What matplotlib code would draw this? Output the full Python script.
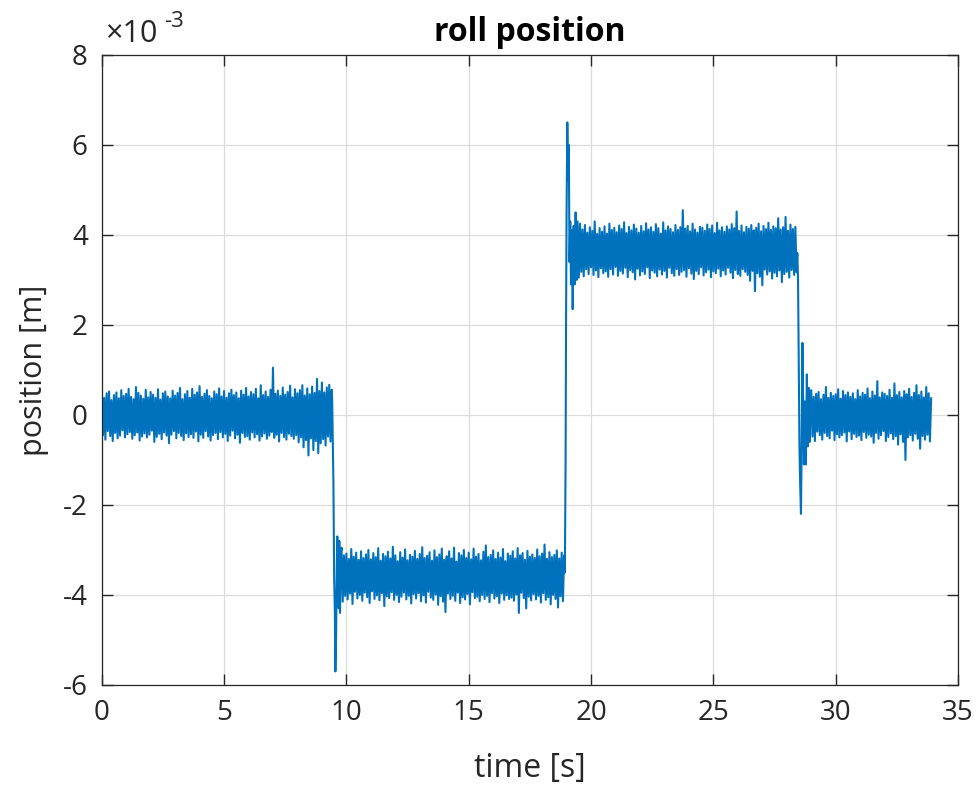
import numpy as np
import matplotlib
matplotlib.use("Agg")
import matplotlib.pyplot as plt
from matplotlib.ticker import FuncFormatter

plt.rcParams['font.family'] = ['Open Sans', 'DejaVu Sans']
plt.rcParams['axes.unicode_minus'] = False

dt = 0.05  # sample spacing of the steady parts [s]

# steady part 1: 0.00 .. 9.40 s, position in mm
seg1_start = 0.0
seg1 = [0.62, -0.45, 0.38, -0.55, 0.48, -0.36, 0.52, -0.47, 0.33, -0.58, 0.44, -0.40, 0.50, -0.52, 0.37, -0.46, 0.55, -0.34, 0.42, -0.50,
        0.47, -0.43, 0.58, -0.38, 0.40, -0.53, 0.35, -0.45, 0.62, -0.39, 0.49, -0.57, 0.43, -0.48, 0.36, -0.41, 0.56, -0.50, 0.39, -0.44,
        0.51, -0.35, 0.45, -0.60, 0.38, -0.49, 0.57, -0.42, 0.34, -0.54, 0.48, -0.39, 0.52, -0.46, 0.41, -0.63, 0.37, -0.44, 0.54, -0.36,
        0.43, -0.52, 0.49, -0.40, 0.60, -0.47, 0.35, -0.56, 0.46, -0.41, 0.53, -0.49, 0.38, -0.43, 0.58, -0.51, 0.45, -0.37, 0.50, -0.59,
        0.64, -0.44, 0.40, -0.51, 0.47, -0.36, 0.55, -0.48, 0.42, -0.57, 0.37, -0.45, 0.52, -0.40, 0.46, -0.54, 0.59, -0.38, 0.41, -0.50,
        0.53, -0.42, 0.38, -0.58, 0.48, -0.46, 0.56, -0.35, 0.44, -0.52, 0.50, -0.44, 0.37, -0.62, 0.54, -0.40, 0.45, -0.49, 0.60, -0.47,
        0.41, -0.55, 0.51, -0.39, 0.46, -0.50, 0.58, -0.43, 0.37, -0.57, 0.66, -0.48, 0.44, -0.41, 0.52, -0.53, 0.40, -0.46, 0.56, -0.38,
        1.05, -0.51, 0.47, -0.44, 0.54, -0.59, 0.42, -0.40, 0.61, -0.49, 0.45, -0.55, 0.51, -0.42, 0.65, -0.47, 0.39, -0.53, 0.57, -0.45,
        0.48, -0.61, 0.55, -0.50, 0.66, -0.72, 0.43, -0.56, 0.59, -0.90, 0.46, -0.52, 0.63, -0.78, 0.49, -0.58, 0.80, -0.85, 0.53, -0.63,
        0.72, -0.54, 0.50, -0.68, 0.61, -0.48, 0.67, -0.59, 0.56]

# step down
tr1_t = [9.42, 9.44, 9.47, 9.50, 9.53, 9.55, 9.58, 9.61, 9.63, 9.66, 9.69, 9.71, 9.74, 9.77]
tr1_y = [0.3, -0.4, -1.5, -3.6, -4.4, -5.7, -4.9, -3.3, -2.7, -3.9, -4.3, -2.8, -4.4, -3.1]

# steady part 2: 9.80 .. 18.90 s
seg2_start = 9.80
seg2 = [-2.95, -4.15, -3.12, -4.02, -3.08, -4.10, -3.20, -3.97, -2.98, -4.20, -3.15, -3.93, -3.06, -4.08, -3.22, -4.00, -3.03, -4.13, -3.18, -3.95,
        -3.10, -4.05, -3.00, -4.18, -3.21, -3.92, -3.07, -4.09, -3.16, -4.01, -2.96, -4.12, -3.24, -3.96, -3.09, -4.25, -3.14, -4.03, -3.04, -4.07,
        -3.19, -3.94, -2.93, -4.11, -3.12, -4.00, -3.25, -4.16, -3.05, -4.04, -3.17, -3.95, -2.99, -4.10, -3.23, -4.02, -3.11, -4.19, -3.15, -3.98,
        -3.02, -4.08, -3.20, -3.96, -3.09, -4.14, -2.94, -4.01, -3.18, -4.17, -3.13, -3.93, -3.05, -4.06, -3.24, -4.11, -3.01, -3.99, -3.16, -4.22,
        -3.10, -4.03, -2.97, -4.15, -3.22, -4.38, -3.14, -3.97, -3.03, -4.09, -3.19, -4.02, -2.95, -4.13, -3.26, -3.95, -3.07, -4.18, -3.12, -4.05,
        -3.00, -4.10, -3.18, -3.98, -3.06, -4.21, -3.21, -3.94, -2.97, -4.07, -3.15, -4.04, -3.09, -4.14, -3.23, -4.00, -3.04, -4.09, -2.90, -4.02,
        -3.16, -4.16, -3.11, -3.96, -3.01, -4.08, -3.20, -4.03, -3.06, -4.18, -3.17, -3.97, -2.98, -4.11, -3.25, -4.01, -3.08, -4.09, -3.13, -4.06,
        -3.03, -4.13, -3.19, -3.99, -2.96, -4.40, -3.12, -3.95, -3.07, -4.07, -3.22, -4.30, -3.02, -4.04, -3.15, -4.12, -3.10, -3.98, -3.18, -4.10,
        -2.99, -4.02, -3.14, -4.17, -3.08, -3.96, -2.88, -4.11, -3.20, -4.05, -3.05, -4.21, -3.16, -4.00, -3.11, -4.09, -3.01, -4.28, -3.19, -4.03,
        -3.06, -4.14, -3.12]

# step up with overshoot
tr2_t = [18.93, 18.96, 18.98, 19.00, 19.03, 19.06, 19.09, 19.12, 19.15, 19.18, 19.22, 19.25, 19.29, 19.33, 19.37, 19.41, 19.45]
tr2_y = [-3.5, -1.0, 2.3, 4.5, 6.5, 5.2, 6.0, 3.4, 4.3, 2.9, 4.1, 2.35, 4.2, 2.9, 4.5, 3.0, 4.3]

# steady part 3: 19.50 .. 28.40 s
seg3_start = 19.50
seg3 = [3.05, 4.25, 3.18, 4.12, 3.08, 4.22, 3.24, 4.05, 3.13, 4.17, 3.28, 4.09, 3.11, 4.30, 3.21, 4.02, 3.06, 4.15, 3.26, 4.07,
        3.15, 4.19, 3.19, 4.03, 3.07, 4.25, 3.24, 4.11, 3.12, 4.16, 3.29, 4.06, 3.09, 4.21, 3.20, 4.13, 3.14, 4.28, 3.27, 4.04,
        3.06, 4.18, 3.22, 4.10, 3.17, 4.23, 3.01, 4.14, 3.25, 4.05, 3.10, 4.20, 3.19, 4.08, 3.13, 4.26, 3.28, 4.12, 3.04, 4.17,
        3.21, 4.07, 3.16, 4.24, 3.08, 4.15, 3.23, 4.03, 3.12, 4.28, 3.20, 4.10, 3.05, 4.19, 3.27, 4.13, 3.15, 4.06, 3.09, 4.22,
        3.24, 4.11, 3.11, 4.17, 3.18, 4.55, 3.22, 4.14, 3.07, 4.20, 3.26, 4.08, 3.14, 4.25, 3.02, 4.12, 3.20, 4.05, 3.13, 4.18,
        3.28, 4.16, 3.10, 4.09, 3.17, 4.23, 3.23, 4.13, 3.06, 4.21, 3.19, 4.04, 3.15, 4.27, 3.25, 4.10, 3.08, 4.17, 3.21, 4.07,
        3.12, 4.19, 3.27, 4.12, 3.16, 4.24, 3.04, 4.15, 3.22, 4.52, 3.13, 4.09, 3.09, 4.21, 3.24, 4.06, 3.18, 4.18, 3.11, 4.14,
        2.98, 4.22, 3.20, 4.10, 2.75, 4.16, 3.15, 4.25, 3.07, 4.08, 2.88, 4.20, 3.23, 4.13, 3.12, 4.27, 3.19, 4.11, 3.03, 4.19,
        3.16, 4.15, 3.08, 4.37, 3.21, 4.12, 2.95, 4.17, 3.13, 4.40, 3.18, 4.09, 3.05, 4.23, 3.22, 4.13, 3.11, 4.18, 3.17]

# step back to zero
tr3_t = [28.43, 28.46, 28.49, 28.52, 28.55, 28.58, 28.61, 28.64, 28.67, 28.70, 28.74, 28.78, 28.82, 28.86, 28.90, 28.94, 28.97]
tr3_y = [3.6, 3.0, 1.0, -0.8, -1.6, -2.2, -0.5, 1.6, 0.2, -1.1, 0.3, -1.1, 0.9, -0.7, 0.6, -0.6, 0.5]

# steady part 4: 29.00 .. 33.90 s
seg4_start = 29.00
seg4 = [0.55, -0.48, 0.40, -0.58, 0.47, -0.37, 0.51, -0.45, 0.35, -0.55, 0.45, -0.40, 0.62, -0.47, 0.38, -0.52, 0.49, -0.35, 0.42, -0.56,
        0.46, -0.43, 0.57, -0.50, 0.36, -0.45, 0.53, -0.39, 0.44, -0.59, 0.50, -0.37, 0.40, -0.54, 0.48, -0.42, 0.35, -0.49, 0.55, -0.46,
        0.41, -0.56, 0.49, -0.38, 0.45, -0.51, 0.59, -0.44, 0.37, -0.48, 0.52, -0.62, 0.43, -0.40, 0.75, -0.53, 0.39, -0.45, 0.50, -0.36,
        0.47, -0.58, 0.42, -0.49, 0.56, -0.41, 0.38, -0.54, 0.70, -0.47, 0.44, -0.66, 0.51, -0.43, 0.39, -0.60, 0.53, -1.00, 0.46, -0.50,
        0.58, -0.45, 0.40, -0.57, 0.49, -0.42, 0.66, -0.53, 0.44, -0.75, 0.52, -0.47, 0.39, -0.55, 0.62, -0.44, 0.48, -0.59, 0.37]


def grid_t(start, vals):
    return start + dt * np.arange(len(vals))


t = np.concatenate([grid_t(seg1_start, seg1), tr1_t, grid_t(seg2_start, seg2), tr2_t,
                    grid_t(seg3_start, seg3), tr3_t, grid_t(seg4_start, seg4)])
pos_mm = np.concatenate([seg1, tr1_y, seg2, tr2_y, seg3, tr3_y, seg4])
pos = pos_mm * 1e-3

txt = '#262626'
fig = plt.figure(figsize=(9.78, 7.90), dpi=100)
ax = fig.add_axes([0.104, 0.133, 0.8756, 0.7975])
ax.plot(t, pos, color='#0072BD', lw=1.5)

ax.set_xlim(0, 35)
ax.set_ylim(-6e-3, 8e-3)
ax.set_xticks(np.arange(0, 36, 5))
ax.set_yticks(np.arange(-6, 9, 2) * 1e-3)
ax.yaxis.set_major_formatter(FuncFormatter(lambda v, p: f'{v * 1e3:g}'))
# exponent label like MATLAB's
ax.text(0.004, 1.010, '×10', transform=ax.transAxes, fontsize=22, color=txt, va='bottom', ha='left')
ax.text(0.073, 1.036, '-3', transform=ax.transAxes, fontsize=16, color=txt, va='bottom', ha='left')

ax.grid(True, color='#dcdcdc', lw=0.9)
ax.set_axisbelow(True)
ax.tick_params(direction='in', length=8, width=1.0, top=True, right=True,
               labelsize=20, colors=txt, pad=10)
for s in ax.spines.values():
    s.set_color(txt)
    s.set_linewidth(0.9)

ax.set_xlabel('time [s]', fontsize=23, color=txt, labelpad=18)
ax.set_ylabel('position [m]', fontsize=22, color=txt, labelpad=10)
ax.set_title('roll position', fontsize=23, fontweight='bold', color='black', pad=10)

fig.savefig('out.png', dpi=100)
